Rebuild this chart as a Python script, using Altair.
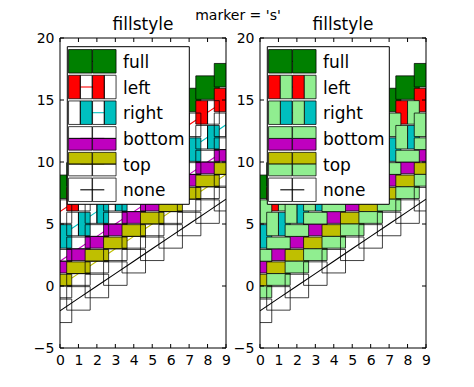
import altair as alt
import pandas as pd

# ---------------- data ----------------
X = [0, 1, 2, 3, 4, 5, 6, 7, 8, 9]
NAMES = ["full", "left", "right", "bottom", "top", "none"]
COLORS = ["#008000", "#ff0000", "#00bfbf", "#bf00bf", "#bfbf00", "#000000"]
Y_FULL = [8, 9, 10, 11, 12, 13, 14, 15, 16, 17]
Y_LEFT = [6, 7, 8, 9, 10, 11, 12, 13, 14, 15]
Y_RIGHT = [4, 5, 6, 7, 8, 9, 10, 11, 12, 13]
Y_BOTTOM = [2, 3, 4, 5, 6, 7, 8, 9, 10, 11]
Y_TOP = [0, 1, 2, 3, 4, 5, 6, 7, 8, 9]
Y_NONE = [-2, -1, 0, 1, 2, 3, 4, 5, 6, 7]
SERIES_Y = [Y_FULL, Y_LEFT, Y_RIGHT, Y_BOTTOM, Y_TOP, Y_NONE]
ALT_FILLS = ["transparent", "#90ee90"]   # left panel: none, right panel: lightgreen
X_TICKS = [0, 1, 2, 3, 4, 5, 6, 7, 8, 9]
Y_TICKS = [-5, 0, 5, 10, 15, 20]
PANEL_TITLE = "fillstyle"
SUPTITLE = "marker = 's'"

# ---------------- style / layout ----------------
W, H = 166, 310
XDOM = [0, 9]
YDOM = [-5, 20]
PX_X = W / (XDOM[1] - XDOM[0])
PX_Y = H / (YDOM[1] - YDOM[0])
MSIDE = 23.5
MSIZE = MSIDE * MSIDE
EDGE = "#000000"
EW = 0.75
LW = 1.1
FONT = "DejaVu Sans"
TICK_LEN = 4
SUP_POS = (178, -18.5)   # suptitle anchor in left-panel pixels

HALF = {
    "left": "M-1,-1L0,-1L0,1L-1,1Z",
    "right": "M0,-1L1,-1L1,1L0,1Z",
    "top": "M-1,-1L1,-1L1,0L-1,0Z",
    "bottom": "M-1,0L1,0L1,1L-1,1Z",
}
OPP = {"left": "right", "right": "left", "top": "bottom", "bottom": "top"}

xs = alt.Scale(domain=XDOM, nice=False, zero=False)
ysc = alt.Scale(domain=YDOM, nice=False, zero=False)
xaxis = alt.Axis(values=X_TICKS, format="d", title=None, grid=False, ticks=False,
                 domain=False, labelFont=FONT, labelFontSize=14, labelColor="black",
                 labelPadding=5, labelFlush=False, labelOverlap=False, labelAngle=0)
yaxis = alt.Axis(values=Y_TICKS, format="d", title=None, grid=False, ticks=False,
                 domain=False, labelFont=FONT, labelFontSize=14, labelColor="black",
                 labelPadding=6, labelFlush=False, labelOverlap=False)


def enc(ch, **extra):
    return ch.encode(x=alt.X("x:Q", scale=xs, axis=xaxis),
                     y=alt.Y("y:Q", scale=ysc, axis=yaxis), **extra)


def px2x(px):
    return XDOM[0] + px / PX_X


def px2y(py):
    return YDOM[1] - py / PX_Y


def pt(**kw):
    base = dict(size=MSIZE, opacity=1, stroke=EDGE, strokeWidth=EW)
    base.update(kw)
    return base


def panel_layers(alt_fill):
    layers = []
    for name, color, ys in zip(NAMES, COLORS, SERIES_Y):
        c = alt.Chart(pd.DataFrame({"x": X, "y": ys}))
        layers.append(enc(c.mark_line(color=color, strokeWidth=LW, clip=True)))
        if name == "full":
            layers.append(enc(c.mark_point(**pt(shape="square", filled=True, fill=color, clip=True))))
        elif name == "none":
            layers.append(enc(c.mark_point(**pt(shape="square", filled=True, fill="transparent", clip=True))))
        else:
            layers.append(enc(c.mark_point(**pt(shape=HALF[name], filled=True, fill=color, clip=True))))
            layers.append(enc(c.mark_point(**pt(shape=HALF[OPP[name]], filled=True, fill=alt_fill, clip=True))))

    # inward ticks
    n = len(X_TICKS)
    m = len(Y_TICKS)
    dyt = TICK_LEN / PX_Y
    dxt = TICK_LEN / PX_X
    xt = pd.DataFrame({"x": X_TICKS * 2,
                       "y": [YDOM[0]] * n + [YDOM[1]] * n,
                       "y2": [YDOM[0] + dyt] * n + [YDOM[1] - dyt] * n})
    yt = pd.DataFrame({"y": Y_TICKS * 2,
                       "x": [XDOM[0]] * m + [XDOM[1]] * m,
                       "x2": [XDOM[0] + dxt] * m + [XDOM[1] - dxt] * m})
    layers.append(enc(alt.Chart(xt).mark_rule(color="black", strokeWidth=1), y2="y2:Q"))
    layers.append(enc(alt.Chart(yt).mark_rule(color="black", strokeWidth=1), x2="x2:Q"))
    # frame
    fr = pd.DataFrame({"x": [XDOM[0]], "x2": [XDOM[1]], "y": [YDOM[0]], "y2": [YDOM[1]]})
    layers.append(enc(alt.Chart(fr).mark_rect(fill="transparent", stroke="black", strokeWidth=1),
                      x2="x2:Q", y2="y2:Q"))
    # panel title as text (baseline 8px above the plot)
    tt = pd.DataFrame({"x": [(XDOM[0] + XDOM[1]) / 2], "y": [YDOM[1]], "t": [PANEL_TITLE]})
    layers.append(enc(alt.Chart(tt).mark_text(align="center", baseline="alphabetic", dy=-8,
                                               font=FONT, fontSize=17, color="black"),
                      text="t:N"))
    return layers


# legend layout in panel pixels
LEG_BOX = (7.3, 8.7, 129.3, 166.3)
LEG_ROW0 = 23.3
LEG_ROW_STEP = 25.7
LEG_MX = (20.3, 44.3)
LEG_TX = 63


def legend_layers(alt_fill):
    box = pd.DataFrame({"x": [px2x(LEG_BOX[0])], "x2": [px2x(LEG_BOX[2])],
                        "y": [px2y(LEG_BOX[1])], "y2": [px2y(LEG_BOX[3])]})
    rows_line, rows_main, rows_alt, rows_text = [], [], [], []
    for i, (name, color) in enumerate(zip(NAMES, COLORS)):
        yy = px2y(LEG_ROW0 + i * LEG_ROW_STEP)
        rows_line.append({"x": px2x(LEG_MX[0]), "x2": px2x(LEG_MX[1]), "y": yy, "c": color})
        rows_text.append({"x": px2x(LEG_TX), "y": yy, "t": name})
        for mx in LEG_MX:
            if name == "full":
                rows_main.append({"x": px2x(mx), "y": yy, "s": "square", "f": color})
            elif name == "none":
                rows_main.append({"x": px2x(mx), "y": yy, "s": "square", "f": "transparent"})
            else:
                rows_main.append({"x": px2x(mx), "y": yy, "s": HALF[name], "f": color})
                rows_alt.append({"x": px2x(mx), "y": yy, "s": HALF[OPP[name]], "f": alt_fill})
    L = []
    L.append(enc(alt.Chart(box).mark_rect(fill="white", stroke="black", strokeWidth=1),
                 x2="x2:Q", y2="y2:Q"))
    L.append(enc(alt.Chart(pd.DataFrame(rows_line)).mark_rule(strokeWidth=LW),
                 x2="x2:Q", color=alt.Color("c:N", scale=None)))
    for rows in (rows_main, rows_alt):
        L.append(enc(alt.Chart(pd.DataFrame(rows)).mark_point(
            filled=True, size=MSIZE, opacity=1, stroke=EDGE, strokeWidth=EW),
            shape=alt.Shape("s:N", scale=None), fill=alt.Fill("f:N", scale=None)))
    L.append(enc(alt.Chart(pd.DataFrame(rows_text)).mark_text(
        align="left", baseline="alphabetic", dy=6.5, font=FONT, fontSize=17, color="black"),
        text="t:N"))
    return L


def panel(alt_fill, with_suptitle):
    layers = panel_layers(alt_fill) + legend_layers(alt_fill)
    if with_suptitle:
        st = pd.DataFrame({"x": [px2x(SUP_POS[0])], "y": [px2y(SUP_POS[1])], "t": [SUPTITLE]})
        layers.append(enc(alt.Chart(st).mark_text(align="center", baseline="alphabetic",
                                                   font=FONT, fontSize=14, color="black"),
                          text="t:N"))
    return alt.layer(*layers).properties(width=W, height=H)


chart = alt.hconcat(panel(ALT_FILLS[0], True), panel(ALT_FILLS[1], False), spacing=34,
                    bounds="flush").properties(
    padding={"left": 24, "top": 0, "right": 5, "bottom": 5},
    background="white",
).configure_view(stroke="transparent")

chart.save("out.html", embed_options={"renderer": "svg", "actions": False})
